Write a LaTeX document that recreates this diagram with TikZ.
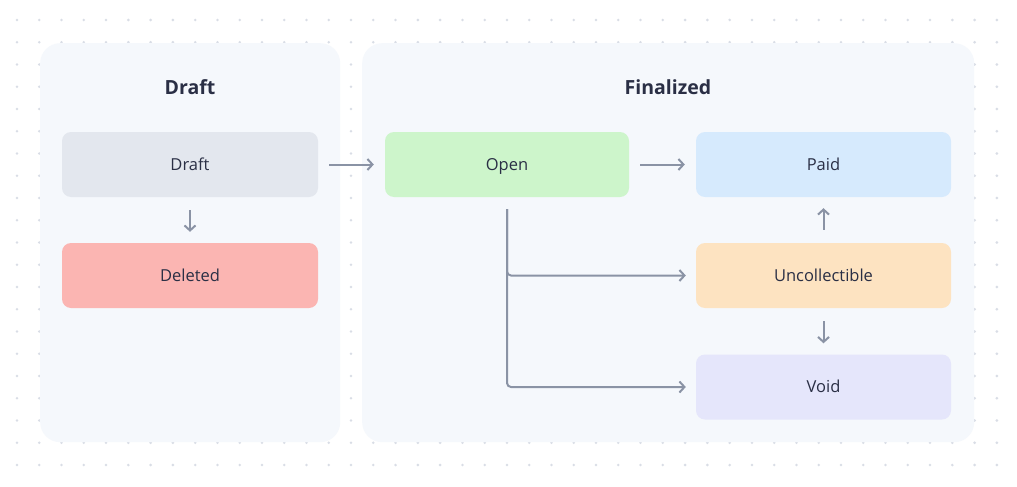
\documentclass[tikz,border=0pt]{standalone}
\usepackage{fontspec}
\setmainfont{Open Sans}
\usetikzlibrary{arrows.meta}
\definecolor{dotc}{HTML}{D9DDE6}
\definecolor{panelc}{HTML}{F5F8FC}
\definecolor{txt}{HTML}{2A2F45}
\definecolor{arrc}{HTML}{8A93A5}
\definecolor{draftc}{HTML}{E3E7EE}
\definecolor{delc}{HTML}{FBB5B2}
\definecolor{openc}{HTML}{CDF5CB}
\definecolor{paidc}{HTML}{D6EAFD}
\definecolor{uncc}{HTML}{FDE3C1}
\definecolor{voidc}{HTML}{E5E6FB}
\tikzset{
  panel/.style={fill=panelc, draw=none, rounded corners=20pt},
  statebox/.style={draw=none, rounded corners=9pt, minimum height=65pt, inner sep=0pt, text height=11.8pt, text depth=0pt, font=\fontsize{16.5}{20}\selectfont, text=txt},
  title/.style={font=\fontsize{19.5}{23}\selectfont\bfseries, text=txt, text height=14pt, text depth=0pt},
  conn/.style={draw=arrc, line width=2pt, -{Straight Barb[length=5pt,width=11pt,line width=2pt]}},
}
\begin{document}
\begin{tikzpicture}[x=1pt,y=-1pt]
\useasboundingbox (0,0) rectangle (1017,487);
\fill[white] (0,0) rectangle (1017,487);
% dot grid
\foreach \i in {0,...,44}{
  \foreach \j in {0,...,20}{
    \fill[dotc] (17+\i*22.27, 20+\j*22.25) circle (1.4pt);
  }
}
% panels
\node[panel, minimum width=300pt, minimum height=399pt, anchor=north west] (pdraft) at (40,43) {};
\node[panel, minimum width=612pt, minimum height=399pt, anchor=north west] (pfinal) at (362,43) {};
\node[title] (tdraft) at (190,87) {Draft};
\node[title] (tfinal) at (668,87) {Finalized};
% states
\node[statebox, fill=draftc, minimum width=256pt] (draft) at (190,164.5) {Draft};
\node[statebox, fill=delc, minimum width=256pt] (deleted) at (190,275.5) {Deleted};
\node[statebox, fill=openc, minimum width=244pt] (open) at (507,164.5) {Open};
\node[statebox, fill=paidc, minimum width=255pt] (paid) at (823.5,164.5) {Paid};
\node[statebox, fill=uncc, minimum width=255pt] (unc) at (823.5,275.5) {Uncollectible};
\node[statebox, fill=voidc, minimum width=255pt] (void) at (823.5,387) {Void};
% connectors
\draw[conn] ([xshift=11pt]draft.east) -- ([xshift=-11pt]open.west);
\draw[conn] ([xshift=11pt]open.east) -- ([xshift=-11pt]paid.west);
\draw[conn] ([yshift=-13pt]draft.south) -- ([yshift=11pt]deleted.north);
\draw[conn] ([yshift=13pt]unc.north) -- ([yshift=-11pt]paid.south);
\draw[conn] ([yshift=-13pt]unc.south) -- ([yshift=11pt]void.north);
\coordinate (br) at (507,209);
\draw[conn, rounded corners=4pt] (br) |- ([xshift=-10pt]unc.west);
\draw[conn, rounded corners=4pt] (br) |- ([xshift=-10pt]void.west);
\end{tikzpicture}
\end{document}
